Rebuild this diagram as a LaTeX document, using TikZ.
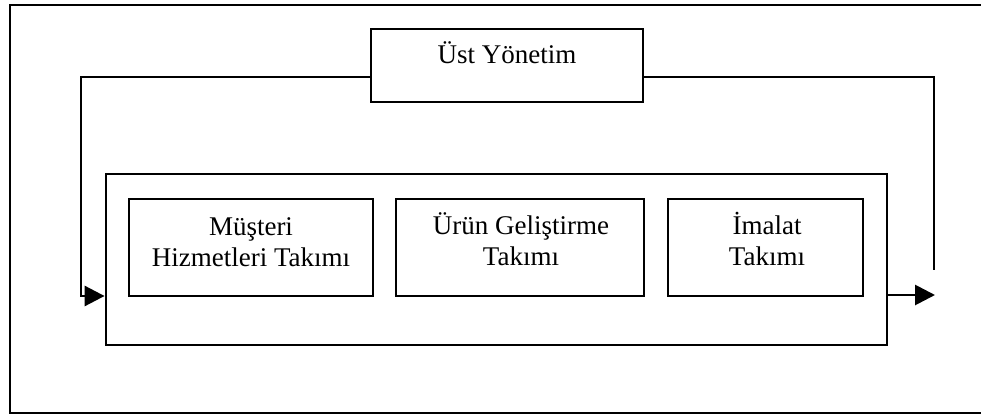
\documentclass[tikz,border=0pt]{standalone}
\usepackage{fontspec}
\setmainfont{Liberation Serif}
\usetikzlibrary{arrows.meta}
\begin{document}
\begin{tikzpicture}[x=1pt,y=-1pt,
  box/.style={draw, line width=2.8pt, inner sep=0pt},
  lbl/.style={font=\fontsize{27}{31}\selectfont, align=center, inner sep=0pt},
  conn/.style={line width=2.8pt},
  tip/.style={-{Triangle[length=20pt,width=20pt]}}]
\useasboundingbox (0,0) rectangle (981,419);
\clip (0,0) rectangle (981,419);
\draw[line width=2.8pt] (10,5) rectangle (1000,413);
\node[box, minimum width=272pt, minimum height=73pt] (top) at (507,65.5) {};
\node[lbl, anchor=base] (toptxt) at (507,64) {Üst Yönetim};
\node[box, minimum width=781pt, minimum height=171pt] (team) at (496.5,259.5) {};
\node[box, minimum width=244pt, minimum height=97pt] (b1) at (251,247.5) {};
\node[box, minimum width=248pt, minimum height=97pt] (b2) at (520,247.5) {};
\node[box, minimum width=195pt, minimum height=97pt] (b3) at (765.5,247.5) {};
\node[lbl, anchor=base] (t1) at (251,266) {Müşteri\\Hizmetleri Takımı};
\node[lbl, anchor=base] (t2) at (521,265.5) {Ürün Geliştirme\\Takımı};
\node[lbl, anchor=base] (t3) at (767,265.5) {İmalat\\Takımı};
\coordinate (lj) at (81,77);
\coordinate (la) at (81,296);
\coordinate (rj) at (934,77);
\coordinate (re) at (934,270);
\coordinate (ra) at (935,295);
\draw[conn, tip] (top.west |- lj) -- (lj) -- (la) -- (la -| team.west);
\draw[conn] (top.east |- rj) -- (rj) -- (re);
\draw[conn, tip] (team.east |- ra) -- (ra);
\end{tikzpicture}
\end{document}
